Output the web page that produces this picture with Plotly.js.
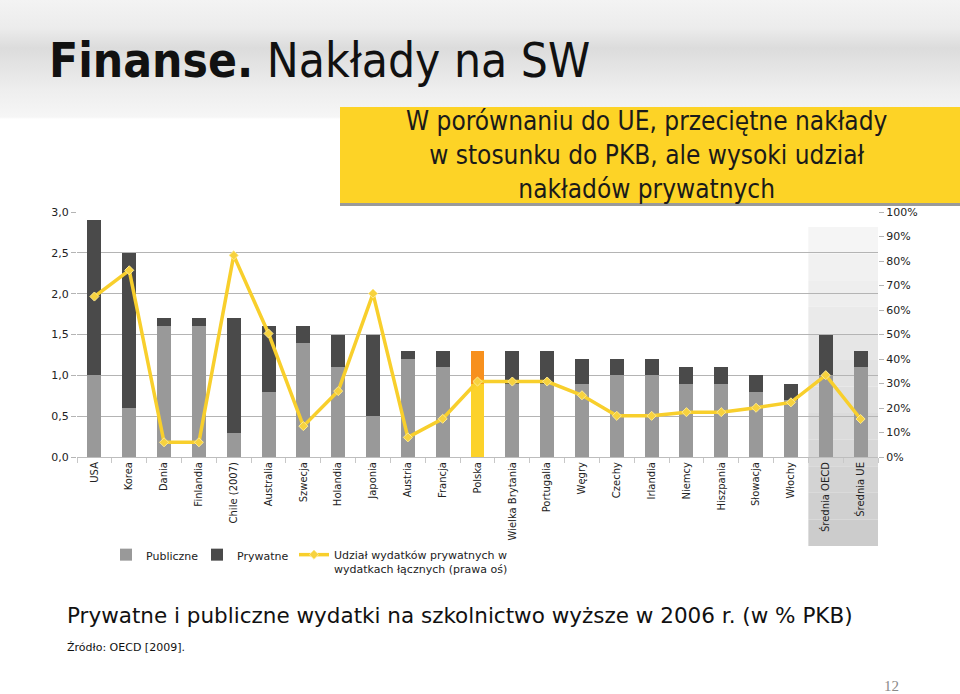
<!DOCTYPE html>
<html>
<head>
<meta charset="utf-8">
<script src="https://cdn.plot.ly/plotly-3.0.1.min.js"></script>
<style>
html,body{margin:0;padding:0;background:#fff;}
#wrap{position:relative;width:960px;height:694px;overflow:hidden;
background:linear-gradient(to bottom,#f3f3f3 0px,#ececec 28px,#dcdcdc 48px,#e2e2e2 62px,#eeeeee 90px,#f6f6f6 117px,#ffffff 119px,#ffffff 694px);}
#chart{position:absolute;left:0;top:0;width:960px;height:694px;}
</style>
</head>
<body>
<div id="wrap"><div id="chart"></div></div>
<script>
const categories = ['USA','Korea','Dania','Finlandia','Chile (2007)','Australia','Szwecja','Holandia','Japonia','Austria','Francja','Polska','Wielka Brytania','Portugalia','Węgry','Czechy','Irlandia','Niemcy','Hiszpania','Słowacja','Włochy','Średnia OECD','Średnia UE'];
const publiczne = [1.0,0.6,1.6,1.6,0.3,0.8,1.4,1.1,0.5,1.2,1.1,0.9,0.9,0.9,0.9,1.0,1.0,0.9,0.9,0.8,0.7,1.0,1.1];
const prywatne  = [1.9,1.9,0.1,0.1,1.4,0.8,0.2,0.4,1.0,0.1,0.2,0.4,0.4,0.4,0.3,0.2,0.2,0.2,0.2,0.2,0.2,0.5,0.2];
const udzialPrywatnych = [65.5,76.2,6.0,6.0,82.3,50.4,12.6,26.9,66.7,8.0,15.6,30.8,30.8,30.8,25.2,16.8,16.8,18.3,18.3,20.1,22.3,33.4,15.5];
const leftTicks = [0,0.5,1,1.5,2,2.5,3];
const leftTickText = ['0,0','0,5','1,0','1,5','2,0','2,5','3,0'];
const rightTicks = [0,10,20,30,40,50,60,70,80,90,100];
const rightTickText = ['0%','10%','20%','30%','40%','50%','60%','70%','80%','90%','100%'];
const highlight = 'Polska';
const boxText = 'W porównaniu do UE, przeciętne nakłady<br>w stosunku do PKB, ale wysoki udział<br>nakładów prywatnych';

const colPub = categories.map(c => c === highlight ? '#fcd22a' : '#999999');
const colPriv = categories.map(c => c === highlight ? '#f7901d' : '#4a4a4a');

// plot area in pixels
const L = 77, R = 878, T = 212, B = 457;
const W = 960, H = 694;
const px = x => (x - L) / (R - L);
const py = y => (B - y) / (B - T);

const verd = 'DejaVu Sans, Verdana, sans-serif';
const tickFont = {family:verd, size:10, color:'#222'};

const traces = [
  {type:'bar', name:'Publiczne', x:categories, y:publiczne, marker:{color:colPub}, hoverinfo:'x+y', legend:'legend'},
  {type:'bar', name:'Prywatne', x:categories, y:prywatne, marker:{color:colPriv}, hoverinfo:'x+y', legend:'legend2'},
  {type:'scatter', mode:'lines+markers', name:'Udział wydatków prywatnych w<br>wydatkach łącznych (prawa oś)',
   x:categories, y:udzialPrywatnych, yaxis:'y2', legend:'legend3',
   line:{color:'#f8cf2c', width:3.5},
   marker:{symbol:'diamond', size:7, color:'#f7d23e', line:{color:'#fde98f', width:1}}}
];

const shapes = [];
// shaded band behind averages (gradient approximation)
const nb = 12, bandTop = 227, bandBot = 546;
for (let i = 0; i < nb; i++) {
  const y0 = bandTop + (bandBot - bandTop) * i / nb;
  const y1 = bandTop + (bandBot - bandTop) * (i + 1) / nb;
  const g = Math.round(245 - (245 - 204) * i / (nb - 1));
  shapes.push({type:'rect', xref:'x', yref:'paper', x0:20.5, x1:22.5, y0:py(y1), y1:py(y0),
    fillcolor:`rgb(${g},${g},${g})`, line:{width:0}, layer:'below'});
}
// yellow box with shadow
shapes.push({type:'rect', xref:'paper', yref:'paper', x0:px(340), x1:px(962), y0:py(206), y1:py(110),
  fillcolor:'#9a9a9a', line:{width:0}, layer:'above'});
shapes.push({type:'rect', xref:'paper', yref:'paper', x0:px(340), x1:px(962), y0:py(203), y1:py(107),
  fillcolor:'#fdd326', line:{width:0}, layer:'above'});

const narrow = 'Liberation Sans Narrow, DejaVu Sans Condensed, Arial Narrow, sans-serif';
const annotations = [
  {xref:'paper', yref:'paper', x:px(47), y:py(60), xanchor:'left', yanchor:'middle', showarrow:false,
   text:'<b>Finanse.</b> Nakłady na SW', font:{family:narrow, size:47.5, color:'#111'}},
  {xref:'paper', yref:'paper', x:px(647), y:py(155), xanchor:'center', yanchor:'middle', showarrow:false,
   text:boxText, align:'center', font:{family:narrow, size:26, color:'#1a1a1a'}},
  {xref:'paper', yref:'paper', x:px(65), y:py(615), xanchor:'left', yanchor:'middle', showarrow:false,
   text:'Prywatne i publiczne wydatki na szkolnictwo wyższe w 2006 r. (w % PKB)',
   font:{family:verd, size:21.5, color:'#111'}},
  {xref:'paper', yref:'paper', x:px(65), y:py(647), xanchor:'left', yanchor:'middle', showarrow:false,
   text:'Źródło: OECD [2009].', font:{family:verd, size:11, color:'#111'}},
  {xref:'paper', yref:'paper', x:px(901), y:py(686), xanchor:'right', yanchor:'middle', showarrow:false,
   text:'12', font:{family:'Liberation Serif, Times New Roman, serif', size:15, color:'#8a8a8a'}}
];

const legBase = {orientation:'v', yanchor:'top', xanchor:'left', y:py(541),
  font:{family:verd, size:11, color:'#222'}, bgcolor:'rgba(0,0,0,0)', itemwidth:30, valign:'top'};

const layout = {
  width:W, height:H,
  margin:{l:L, r:W - R, t:T, b:H - B, pad:0},
  paper_bgcolor:'rgba(0,0,0,0)', plot_bgcolor:'rgba(0,0,0,0)',
  barmode:'stack', bargap:0.6,
  showlegend:true,
  legend:Object.assign({}, legBase, {x:px(106)}),
  legend2:Object.assign({}, legBase, {x:px(197)}),
  legend3:Object.assign({}, legBase, {x:px(294)}),
  xaxis:{type:'category', range:[-0.5, categories.length - 0.5], tickangle:-90, tickfont:tickFont, showgrid:false,
    showline:true, linecolor:'#bdbdbd', linewidth:1,
    ticks:'outside', tickson:'boundaries', ticklen:5, tickcolor:'#c8c8c8', automargin:false},
  yaxis:{range:[0,3], tickvals:leftTicks, ticktext:leftTickText, tickfont:{family:verd, size:11, color:'#222'},
    showgrid:true, gridcolor:'#b4b4b4', gridwidth:1, zeroline:false,
    showline:false, ticks:'outside', ticklen:5, tickcolor:'#b4b4b4', automargin:false},
  yaxis2:{range:[0,100], overlaying:'y', side:'right', tickvals:rightTicks, ticktext:rightTickText,
    tickfont:{family:verd, size:11, color:'#222'},
    showgrid:false, zeroline:false, showline:false,
    ticks:'outside', ticklen:5, tickcolor:'#b4b4b4', automargin:false},
  shapes:shapes,
  annotations:annotations
};

Plotly.newPlot('chart', traces, layout, {displayModeBar:false, staticPlot:true});
</script>
</body>
</html>
